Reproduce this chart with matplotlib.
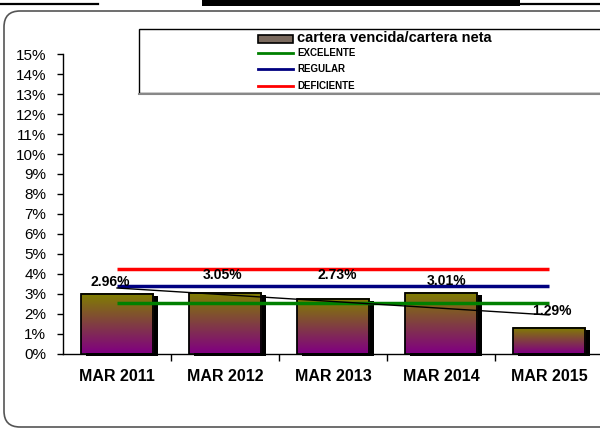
import numpy as np
import matplotlib
matplotlib.use("Agg")
import matplotlib.pyplot as plt
from matplotlib.colors import LinearSegmentedColormap
from matplotlib.patches import Rectangle, FancyBboxPatch
from matplotlib.lines import Line2D
import matplotlib.transforms as mtransforms

plt.rcParams['font.family'] = ['Liberation Sans', 'DejaVu Sans']

# data
periods = ['MAR 2011', 'MAR 2012', 'MAR 2013', 'MAR 2014', 'MAR 2015']
ratio = [2.96, 3.05, 2.73, 3.01, 1.29]          # cartera vencida / cartera neta (%)
excelente = [2.55] * 5
regular = [3.40] * 5
deficiente = [4.25] * 5
series_name = 'cartera vencida/cartera neta'
ref_names = ['EXCELENTE', 'REGULAR', 'DEFICIENTE']
ref_colors = ['#008000', '#000080', '#ff0000']

W, H = 600, 428
fig = plt.figure(figsize=(W / 100, H / 100), dpi=100)


def px(x, y):
    # pixel (from top-left) -> inches for dpi_scale_trans
    return x / 100, (H - y) / 100


inch = fig.dpi_scale_trans

# decorations at the top
fig.add_artist(Line2D([0, 0.98], [px(0, 4)[1]] * 2, transform=inch, color='black', lw=1.6))
fig.add_artist(Line2D([5.2, 6.0], [px(0, 4)[1]] * 2, transform=inch, color='black', lw=1.6))
fig.add_artist(Rectangle(px(202, 6), 3.18, 0.06, transform=inch, color='black', lw=0))

# rounded outer frame
x0, y0 = px(4, 427)
fig.add_artist(FancyBboxPatch((x0, y0), 6.3, (427 - 11) / 100, transform=inch,
                              boxstyle='round,pad=0,rounding_size=0.16',
                              facecolor='none', edgecolor='#555555', lw=1.2))

# axes
ax = fig.add_axes([63 / W, 74.5 / H, 540 / W, 299.2 / H])
x = np.arange(len(periods))
bw = 0.67

shadow_tr = mtransforms.offset_copy(ax.transData, fig=fig, x=5, y=-2, units='dots')
ax.bar(x, ratio, width=bw, color='black', transform=shadow_tr, zorder=2, clip_on=False)

cmap = LinearSegmentedColormap.from_list('og', ['#800080', '#808000'])
grad = np.linspace(0, 1, 100).reshape(-1, 1)
for xi, v in zip(x, ratio):
    ax.imshow(grad, extent=[xi - bw / 2, xi + bw / 2, 0, v], origin='lower',
              aspect='auto', cmap=cmap, zorder=3)
ax.bar(x, ratio, width=bw, facecolor='none', edgecolor='black', lw=1.3, zorder=4)

for vals, c in zip([deficiente, regular, excelente], [ref_colors[2], ref_colors[1], ref_colors[0]]):
    ax.plot(x, vals, color=c, lw=2.5, zorder=5, solid_capstyle='butt')

# linear trend of the ratio
k, b = np.polyfit(x, ratio, 1)
ax.plot(x, k * x + b, color='black', lw=1, zorder=6)

# value labels (offsets in pixels from bar top)
lab_off = [(-7, 12), (-2, 18), (4, 24), (6, 12.5), (3, 17)]
for xi, v, (dx, dy) in zip(x, ratio, lab_off):
    ax.annotate(f'{v:.2f}%', (xi, v), xytext=(dx * 0.72, dy * 0.72),
                textcoords='offset points', ha='center', va='center',
                fontsize=10, fontweight='bold', zorder=7)

ax.set_xlim(-0.5, len(periods) - 0.5)
ax.set_ylim(0, 15)
ax.set_yticks(range(0, 16))
ax.set_yticklabels([f'{i}%' for i in range(0, 16)], fontsize=11)
ax.set_xticks(x)
ax.set_xticklabels(periods, fontsize=11.5, fontweight='bold')
ax.set_xticks(np.arange(0.5, len(periods) - 0.5), minor=True)
ax.tick_params(axis='x', which='major', length=0, pad=11)
ax.tick_params(axis='x', which='minor', length=5, width=1, direction='out')
ax.tick_params(axis='y', length=4, width=1, direction='out', pad=8)
for s in ['top', 'right']:
    ax.spines[s].set_visible(False)
ax.spines['left'].set_linewidth(1)
ax.spines['bottom'].set_linewidth(1)

# legend box
lx, ly = px(139, 93)
fig.add_artist(Rectangle((lx, ly), 5.0, 0.64, transform=inch, facecolor='white',
                         edgecolor='black', lw=1))
fig.add_artist(Line2D([lx, 6.0], [ly - 0.01] * 2, transform=inch, color='#888888', lw=1.5))

sx0, sx1 = 258, 293
sy = 38.5
fig.add_artist(FancyBboxPatch(px(sx0, sy + 4), (sx1 - sx0) / 100, 0.08, transform=inch,
                              boxstyle='square,pad=0', facecolor='#7a6a5e',
                              edgecolor='black', lw=1.2))
fig.text(*px(297, sy), series_name, transform=inch, fontsize=10.5, fontweight='bold',
         va='center', ha='left')
for name, c, yy in zip(ref_names, ref_colors, [53.3, 69, 85.7]):
    fig.add_artist(Line2D([sx0 / 100, sx1 / 100], [px(0, yy)[1]] * 2, transform=inch,
                          color=c, lw=2))
    fig.text(*px(297, yy), name, transform=inch, fontsize=7, fontweight='bold',
             va='center', ha='left')

fig.savefig('out.png', dpi=100)
